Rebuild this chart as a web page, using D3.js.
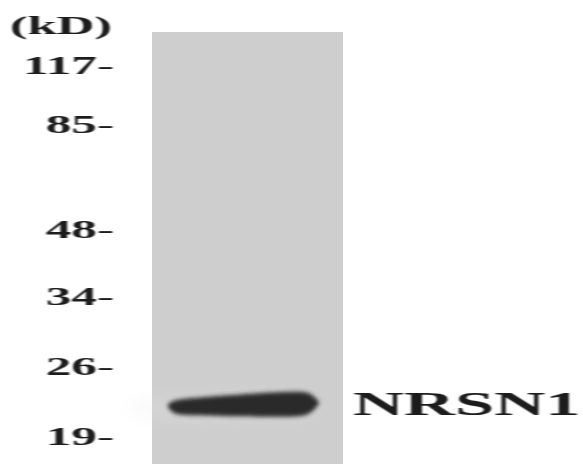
<!DOCTYPE html>
<html>
<head>
<meta charset="utf-8">
<script src="https://cdn.jsdelivr.net/npm/d3@7"></script>
<style>
  html, body { margin: 0; padding: 0; background: #fff; }
  svg { display: block; }
  .lbl { font-family: "Liberation Serif", "DejaVu Serif", serif; font-weight: bold; fill: #1a1a1a; }
</style>
</head>
<body>
<svg id="blot" width="583" height="464"></svg>
<script>
// marker ladder (kD) and the single lane / band
const markers = [117, 85, 48, 34, 26, 19];
const markerY = [66, 125, 230, 297, 367, 437];
const lanes = ["sample"];
const bands = [{ lane: "sample", kd: 22, label: "NRSN1" }];

const svg = d3.select("#blot");
const W = 583, H = 464;
const sx = 2.05; // the picture is stretched horizontally

// log scale, piecewise through the ladder positions
const y = d3.scaleLog().domain(markers).range(markerY);
const x = d3.scaleBand().domain(lanes).range([152, 343]).padding(0);

const defs = svg.append("defs");
defs.append("filter").attr("id", "soft")
    .append("feGaussianBlur").attr("stdDeviation", 0.6);
defs.append("filter").attr("id", "bandBlur")
    .attr("x", "-20%").attr("y", "-80%").attr("width", "140%").attr("height", "260%")
    .append("feGaussianBlur").attr("stdDeviation", 2.2);
defs.append("filter").attr("id", "halo")
    .attr("x", "-50%").attr("y", "-200%").attr("width", "200%").attr("height", "500%")
    .append("feGaussianBlur").attr("stdDeviation", 8);

// lane
svg.selectAll("rect.lane")
    .data(lanes)
    .join("rect")
    .attr("class", "lane")
    .attr("x", d => x(d))
    .attr("y", 32)
    .attr("width", x.bandwidth())
    .attr("height", H - 32)
    .attr("fill", "#cecece")
    .attr("filter", "url(#soft)");

// bands: thin rounded left end, fat wedge-like right end
const profile = [
    [0.00, 1, 1],
    [0.03, -4, 10],
    [0.15, -6, 11],
    [0.40, -9, 12],
    [0.70, -12, 12.5],
    [0.88, -13, 12.5],
    [0.95, -11, 9],
    [1.00, -2, -1]
];
const bandArea = d3.area()
    .x(d => d.x)
    .y0(d => d.y0)
    .y1(d => d.y1)
    .curve(d3.curveBasis);

const bg = svg.append("g");
bands.forEach(b => {
    const x0 = x(b.lane) + x.bandwidth() * 0.08;
    const x1 = x(b.lane) + x.bandwidth() * 0.875;
    const yc = y(b.kd);
    const pts = profile.map(p => ({
        x: x0 + p[0] * (x1 - x0),
        y0: yc + p[2],
        y1: yc + p[1]
    }));
    // faint smear around the band
    bg.append("ellipse")
        .attr("cx", (x0 + x1) / 2 - 20)
        .attr("cy", yc + 4)
        .attr("rx", (x1 - x0) / 2 + 20)
        .attr("ry", 12)
        .attr("fill", "#e6e6e6")
        .attr("opacity", 0.3)
        .attr("filter", "url(#halo)");
    bg.append("path")
        .attr("d", bandArea(pts))
        .attr("fill", "#2a2a2a")
        .attr("filter", "url(#bandBlur)");
    bg.append("text")
        .attr("class", "lbl")
        .attr("transform", `translate(353,${yc + 11}) scale(2.14,1)`)
        .attr("font-size", 33)
        .attr("filter", "url(#soft)")
        .text(b.label);
});

// marker labels
const lbl = svg.append("g");
lbl.append("text")
    .attr("class", "lbl")
    .attr("text-anchor", "end")
    .attr("transform", `translate(112,34) scale(2.1,1)`)
    .attr("font-size", 25)
    .attr("filter", "url(#soft)")
    .text("(kD)");

const mk = lbl.selectAll("text.mk")
    .data(markers)
    .join("text")
    .attr("class", "lbl mk")
    .attr("text-anchor", "end")
    .attr("transform", d => `translate(114,${y(d) + 8}) scale(${sx},1)`)
    .attr("font-size", 25)
    .attr("filter", "url(#soft)");
mk.append("tspan").text(d => d);
mk.append("tspan").attr("font-weight", "normal").text("-");
</script>
</body>
</html>
